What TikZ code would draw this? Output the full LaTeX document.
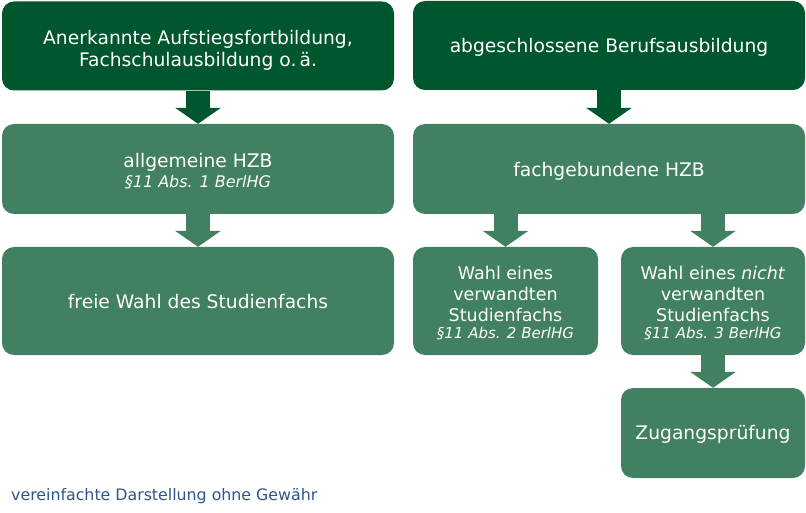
\documentclass[tikz,border=0pt]{standalone}
\usepackage{fontspec}
\setmainfont{DejaVu Sans}
\usetikzlibrary{arrows.meta}

\definecolor{darkgreen}{RGB}{0,87,46}
\definecolor{midgreen}{RGB}{65,128,96}
\definecolor{notegray}{RGB}{47,84,140}

\newcommand{\lawref}[2][16]{{\fontsize{#1}{18}\selectfont\itshape #2}}
\newcommand{\topgap}[1]{\rule{0pt}{#1}}

\tikzset{
    box/.style={rounded corners=12pt, inner sep=0pt, text=white, align=center,
        text depth=-2pt, font=\fontsize{18.7}{22}\selectfont},
    topbox/.style={box, fill=darkgreen, minimum width=392pt, minimum height=89pt},
    midbox/.style={box, fill=midgreen, minimum height=90pt},
    blockarrow/.style={line width=24pt,
        -{Triangle[width=45pt, length=16pt]}}
}

\begin{document}
\begin{tikzpicture}[x=1pt, y=-1pt]
    \useasboundingbox (0,0) rectangle (806,513);

    % Top row
    \node[topbox] (a1) at (198,46)
        {\topgap{20pt}Anerkannte Aufstiegsfortbildung,\\Fachschulausbildung o.\,ä.};
    \node[topbox] (b1) at (609,45.5) {abgeschlossene Berufsausbildung};

    % Second row
    \node[midbox, minimum width=392pt] (a2) at (198,169)
        {\topgap{18pt}allgemeine HZB\\[-2pt]\lawref{§11 Abs. 1 BerlHG}};
    \node[midbox, minimum width=392pt] (b2) at (609,169) {fachgebundene HZB};

    % Third row
    \node[midbox, minimum width=392pt, minimum height=108pt, text depth=-6pt] (a3)
        at (198,301) {freie Wahl des Studienfachs};
    \node[midbox, minimum width=185pt, minimum height=108pt,
        font=\fontsize{17.5}{21}\selectfont] (b3a) at (505.5,301)
        {\topgap{16pt}Wahl eines\\verwandten\\Studienfachs\\[-4pt]\lawref[15]{§11 Abs. 2 BerlHG}};
    \node[midbox, minimum width=184pt, minimum height=108pt,
        font=\fontsize{17.5}{21}\selectfont] (b3b) at (713,301)
        {\topgap{16pt}Wahl eines \textit{nicht}\\verwandten\\Studienfachs\\[-4pt]\lawref[15]{§11 Abs. 3 BerlHG}};

    % Last box
    \node[midbox, minimum width=184pt, text depth=2pt] (b4) at (713,433) {Zugangsprüfung};

    % Arrows
    \draw[blockarrow, darkgreen] (a1.south) -- (a2.north);
    \draw[blockarrow, darkgreen] (b1.south) -- (b2.north);
    \draw[blockarrow, midgreen] (a2.south) -- (a3.north);
    \draw[blockarrow, midgreen] (b2.south -| b3a.north) -- (b3a.north);
    \draw[blockarrow, midgreen] (b2.south -| b3b.north) -- (b3b.north);
    \draw[blockarrow, midgreen] (b3b.south) -- (b4.north);

    % Note
    \node[anchor=base west, inner sep=0pt, text=notegray,
        font=\fontsize{15.8}{19}\selectfont] (note) at (11,500)
        {vereinfachte Darstellung ohne Gewähr};
\end{tikzpicture}
\end{document}
